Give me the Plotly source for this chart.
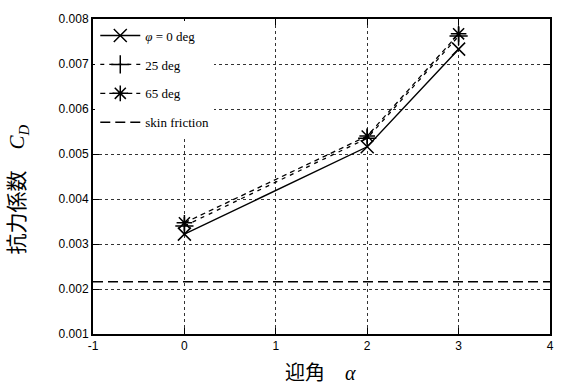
import plotly.graph_objects as go

alpha = [0, 2, 3]
cd_phi0 = [0.00322, 0.00516, 0.00733]
cd_phi25 = [0.00340, 0.00535, 0.00762]
cd_phi65 = [0.00347, 0.00540, 0.00767]
skin_friction = 0.00216
x_range = [-1, 4]
y_range = [0.001, 0.008]
x_ticks = [-1, 0, 1, 2, 3, 4]
x_tick_labels = ["-1", "0", "1", "2", "3", "4"]
y_ticks = [0.001, 0.002, 0.003, 0.004, 0.005, 0.006, 0.007, 0.008]
y_tick_labels = ["0.001", "0.002", "0.003", "0.004", "0.005", "0.006", "0.007", "0.008"]

legend_names = ["<i>φ</i> = 0 deg", "25 deg", "65 deg", "skin friction"]
x_title = "迎角　<i><span style='font-family:Liberation Serif'>α</span></i>"
y_title = ("抗力係数　<i><span style='font-family:Liberation Serif'>C</span></i>"
           "<sub><i><span style='font-family:Liberation Serif'>D</span></i></sub>")

fig = go.Figure()
fig.add_trace(go.Scatter(
    x=alpha, y=cd_phi0, name=legend_names[0], mode="lines+markers",
    line=dict(color="black", width=1.4),
    marker=dict(symbol="x-thin-open", size=13, color="black", line=dict(width=1.5, color="black")),
    legendgroup="a"))
fig.add_trace(go.Scatter(
    x=alpha, y=cd_phi25, name=legend_names[1], mode="lines+markers",
    line=dict(color="black", width=1.3, dash="4px,5px"),
    marker=dict(symbol="cross-thin-open", size=13, color="black", line=dict(width=1.5, color="black")),
    legendgroup="b"))
fig.add_trace(go.Scatter(
    x=alpha, y=cd_phi65, name=legend_names[2], mode="lines+markers",
    line=dict(color="black", width=1.3, dash="5px,4px"),
    marker=dict(symbol="asterisk-open", size=13, color="black", line=dict(width=1.5, color="black")),
    legendgroup="c"))
fig.add_trace(go.Scatter(
    x=x_range, y=[skin_friction, skin_friction], name=legend_names[3], mode="lines",
    line=dict(color="black", width=1.4, dash="10px,5px"),
    legendgroup="d"))

axis_common = dict(
    showline=True, linecolor="black", linewidth=2, mirror="ticks",
    ticks="inside", ticklen=6, tickcolor="black", tickwidth=1,
    showgrid=True, gridcolor="#333333", gridwidth=1, griddash="3px,3px",
    zeroline=False,
    tickfont=dict(family="Liberation Sans, Arial", size=12, color="black"),
)

fig.update_xaxes(range=x_range, tickvals=x_ticks, ticktext=x_tick_labels, **axis_common)
fig.update_yaxes(range=y_range, tickvals=y_ticks, ticktext=y_tick_labels, **axis_common)

fig.add_annotation(text=x_title, xref="paper", yref="paper", x=0.497, y=-0.118,
                   xanchor="center", yanchor="middle", showarrow=False,
                   font=dict(family="Noto Sans CJK JP", size=20, color="black"))
fig.add_annotation(text=y_title, xref="paper", yref="paper", x=-0.170, y=0.46,
                   xanchor="center", yanchor="middle", showarrow=False, textangle=-90,
                   font=dict(family="Noto Sans CJK JP", size=21, color="black"))

fig.update_layout(
    width=566, height=385,
    margin=dict(l=93, r=12, t=12, b=51),
    plot_bgcolor="white", paper_bgcolor="white",
    showlegend=True,
    legend=dict(x=0.005, y=0.995, xanchor="left", yanchor="top",
                bgcolor="white", borderwidth=0,
                font=dict(family="Liberation Serif", size=13, color="black"),
                itemwidth=40, tracegroupgap=9),
)

fig.write_html("out.html")
